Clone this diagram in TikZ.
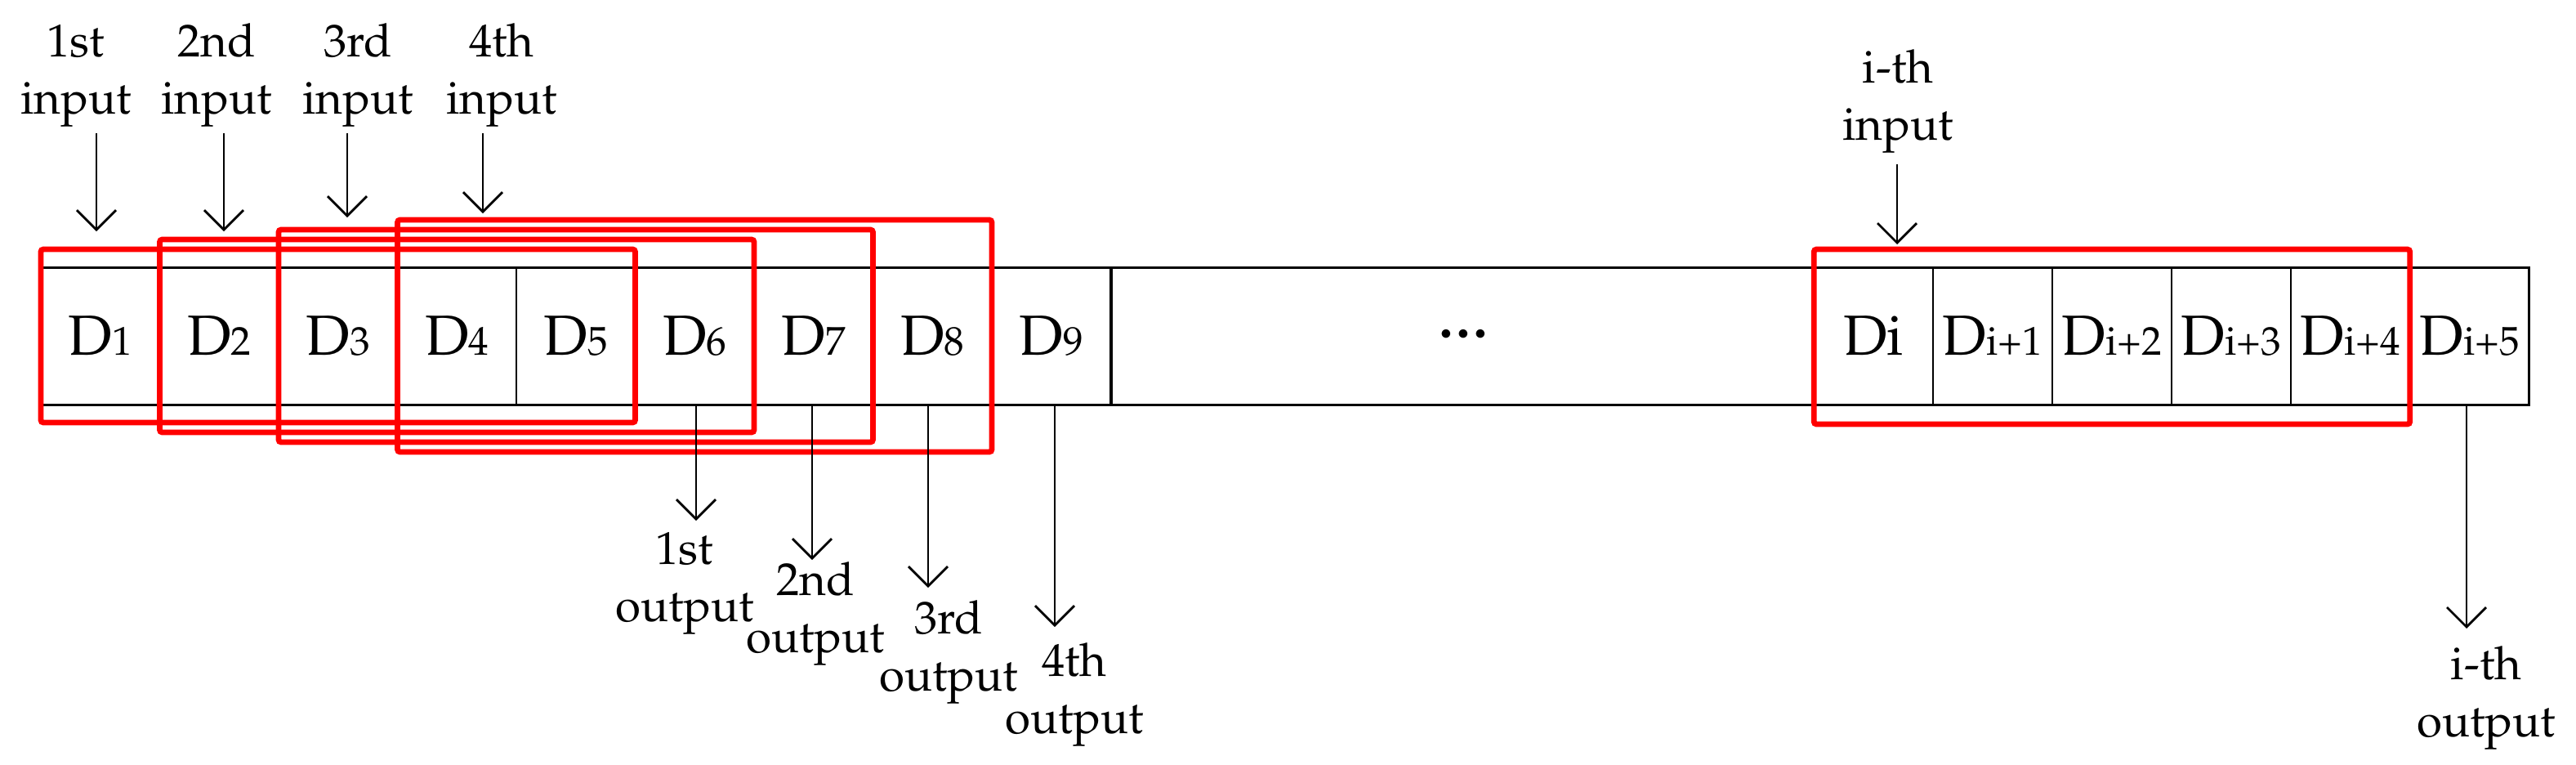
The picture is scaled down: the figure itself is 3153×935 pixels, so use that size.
\documentclass[tikz,border=0pt]{standalone}
\usepackage[T1]{fontenc}
\renewcommand{\rmdefault}{ppl}
\usetikzlibrary{arrows.meta}

\newcommand{\idx}[1]{{\fontsize{12.3}{14}\selectfont #1}}
\tikzset{
  cell/.style={draw, line width=0.55pt, minimum width=36.4pt, minimum height=42pt,
    inner sep=0pt, outer sep=0pt, font=\fontsize{17.3}{20}\selectfont},
  win/.style={draw=red, line width=1.7pt, rounded corners=0.8pt},
  arr/.style={-{Straight Barb[length=6pt,width=12pt]}, line width=0.7pt},
  lbl/.style={align=center, inner sep=0pt, anchor=base, font=\fontsize{14.1}{17.4}\selectfont},
}

\begin{document}
\begin{tikzpicture}[x=0.25pt, y=-0.25pt]
  \useasboundingbox (0,0) rectangle (3153,935);
  % the data cells
  \foreach \k in {1,...,9}
    \node[cell] (D\k) at ({50+145.5*(\k-0.5)},411) {D\idx{\k}};
  \node[cell, minimum width=215.1pt] (gap) at (1791,411)
    {\fontsize{26}{26}\selectfont${\cdotp}\mkern-1.2mu{\cdotp}\mkern-1.2mu{\cdotp}$};
  \node[cell] (Di0) at (2293,411) {Di};
  \foreach \k in {1,...,5}
    \node[cell] (Di\k) at ({2293+146*\k},411) {D\idx{i+\k}};
  \draw[line width=0.75pt] (D1.north west) rectangle (Di5.south east);

  % sliding windows
  \foreach \k [evaluate=\k as \m using int(\k+4), evaluate=\k as \off using 5.5+3*(\k-1)] in {1,...,4}
    \draw[win] ([yshift=\off pt]D\k.north west) rectangle ([yshift=-\off pt]D\m.south east);
  \draw[win] ([yshift=5.5pt]Di0.north west) rectangle ([yshift=-6pt]Di4.south east);

  % inputs
  \node[lbl] (in1) at (93,139) {1st\\input};
  \node[lbl] (in2) at (265,139) {2nd\\input};
  \node[lbl] (in3) at (438,139) {3rd\\input};
  \node[lbl] (in4) at (614,139) {4th\\input};
  \node[lbl] (ini) at (2323,171) {i-th\\input};
  \coordinate (t1) at (118,283);
  \coordinate (t2) at (274,283);
  \coordinate (t3) at (425,266);
  \coordinate (t4) at (591,261);
  \coordinate (ti) at (2322,299);
  \foreach \n in {1,...,4}
    \draw[arr, shorten <=1.75pt] (t\n |- in\n.south) -- (t\n);
  \draw[arr, shorten <=3.25pt] (ti |- ini.south) -- (ti);

  % outputs
  \node[lbl] (out1) at (838,760) {1st\\output};
  \node[lbl] (out2) at (998,798) {2nd\\output};
  \node[lbl] (out3) at (1161,845) {3rd\\output};
  \node[lbl] (out4) at (1315,897) {4th\\output};
  \node[lbl] (outi) at (3043,901) {i-th\\output};
  \coordinate (o1) at (852,637);
  \coordinate (o2) at (994,685);
  \coordinate (o3) at (1136,719);
  \coordinate (o4) at (1291,767);
  \coordinate (oi) at (3019,769);
  \draw[arr] (o1 |- D6.south) -- (o1);
  \draw[arr] (o2 |- D7.south) -- (o2);
  \draw[arr] (o3 |- D8.south) -- (o3);
  \draw[arr] (o4 |- D9.south) -- (o4);
  \draw[arr] (oi |- Di5.south) -- (oi);
\end{tikzpicture}
\end{document}
